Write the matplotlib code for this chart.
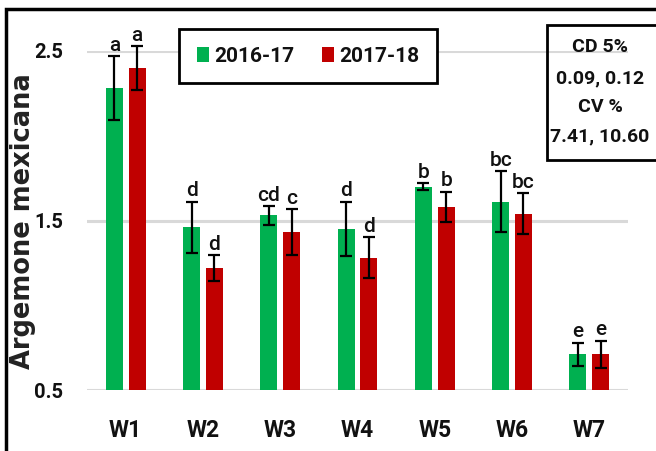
import numpy as np
import matplotlib
matplotlib.use('Agg')
import matplotlib.pyplot as plt
from matplotlib.patches import Rectangle

# weed treatments and two seasons
treatments = ['W1', 'W2', 'W3', 'W4', 'W5', 'W6', 'W7']
seasons = ['2016-17', '2017-18']
vals_1617 = [2.28, 1.46, 1.53, 1.45, 1.70, 1.61, 0.71]
vals_1718 = [2.40, 1.22, 1.43, 1.28, 1.58, 1.54, 0.71]
err_1617 = [0.19, 0.15, 0.055, 0.16, 0.02, 0.18, 0.07]
err_1718 = [0.13, 0.075, 0.135, 0.12, 0.09, 0.12, 0.08]
letters_1617 = ['a', 'd', 'cd', 'd', 'b', 'bc', 'e']
letters_1718 = ['a', 'd', 'c', 'd', 'b', 'bc', 'e']
yticks = [0.5, 1.5, 2.5]
stats_text = ['CD 5%', '0.09, 0.12', 'CV %', '7.41, 10.60']

font = ['Roboto', 'DejaVu Sans']
green, red = '#00B050', '#C00000'

fig = plt.figure(figsize=(6.56, 4.51), dpi=100)
ax = fig.add_axes([87/656, 1-390/451, (628-87)/656, (390-51)/451])

x = np.arange(len(treatments))
w = 0.22
off = 0.147
ax.bar(x-off, vals_1617, w, color=green, label=seasons[0], zorder=2)
ax.bar(x+off, vals_1718, w, color=red, label=seasons[1], zorder=2)
for xs, v, e in [(x-off, vals_1617, err_1617), (x+off, vals_1718, err_1718)]:
    ax.errorbar(xs, v, yerr=e, fmt='none', ecolor='black', elinewidth=1.6,
                capsize=4.5, capthick=1.6, zorder=3, clip_on=False)

# significance letters above the error bars
for xs, v, e, labs in [(x-off, vals_1617, err_1617, letters_1617),
                       (x+off, vals_1718, err_1718, letters_1718)]:
    for xi, vi, ei, t in zip(xs, v, e, labs):
        ax.annotate(t, (xi, vi+ei), xytext=(0, 1), textcoords='offset points',
                    ha='center', va='bottom', fontsize=15, family=font,
                    fontweight='medium', color='#111111', annotation_clip=False)

ax.set_xlim(-0.5, 6.5)
ax.set_ylim(0.5, 2.5)
ax.set_yticks(yticks)
ax.set_yticklabels(['0.5', '1.5', '2.5'], family=font, fontsize=14.5, fontweight='bold')
ax.set_xticks(x)
ax.set_xticklabels(treatments, family=font, fontsize=16.5, fontweight='bold')
ax.tick_params(length=0, colors='#111111')
ax.tick_params(axis='x', pad=21)
ax.tick_params(axis='y', pad=17)
for s in ax.spines.values():
    s.set_visible(False)
ax.grid(axis='y', color='#d9d9d9', lw=2.2, zorder=0)
ax.set_axisbelow(True)

fig.text(23/656, 1-221/451, 'Argemone mexicana', rotation=90, ha='center',
         va='center', fontsize=18.5, fontweight='bold', family='DejaVu Sans',
         color='#222222')

leg = ax.legend(loc='center', bbox_to_anchor=(308/656, 1-56/451),
                bbox_transform=fig.transFigure, ncol=2, frameon=True,
                fancybox=False, framealpha=1, handlelength=0.6, handleheight=0.75,
                handletextpad=0.25, columnspacing=1.3, borderpad=0.85,
                prop={'family': font, 'size': 15, 'weight': 'bold'})
leg.get_frame().set_edgecolor('black')
leg.get_frame().set_linewidth(2)
for t in leg.get_texts():
    t.set_color('#111111')

# stats box
fig.patches.append(Rectangle((547/656, 1-160/451), 110/656, 135/451,
                             transform=fig.transFigure, fill=False,
                             edgecolor='black', lw=2))
for t, yy in zip(stats_text, [47, 78, 107, 136]):
    fig.text(600/656, 1-yy/451, t, ha='center', va='center', fontsize=14,
             fontweight='bold', family=font, color='#111111')

# outer frame
fig.patches.append(Rectangle((6/656, -0.05), 1.0, 1-9/451+0.05,
                             transform=fig.transFigure, fill=False,
                             edgecolor='black', lw=2.5))

fig.savefig('out.png', dpi=100)
